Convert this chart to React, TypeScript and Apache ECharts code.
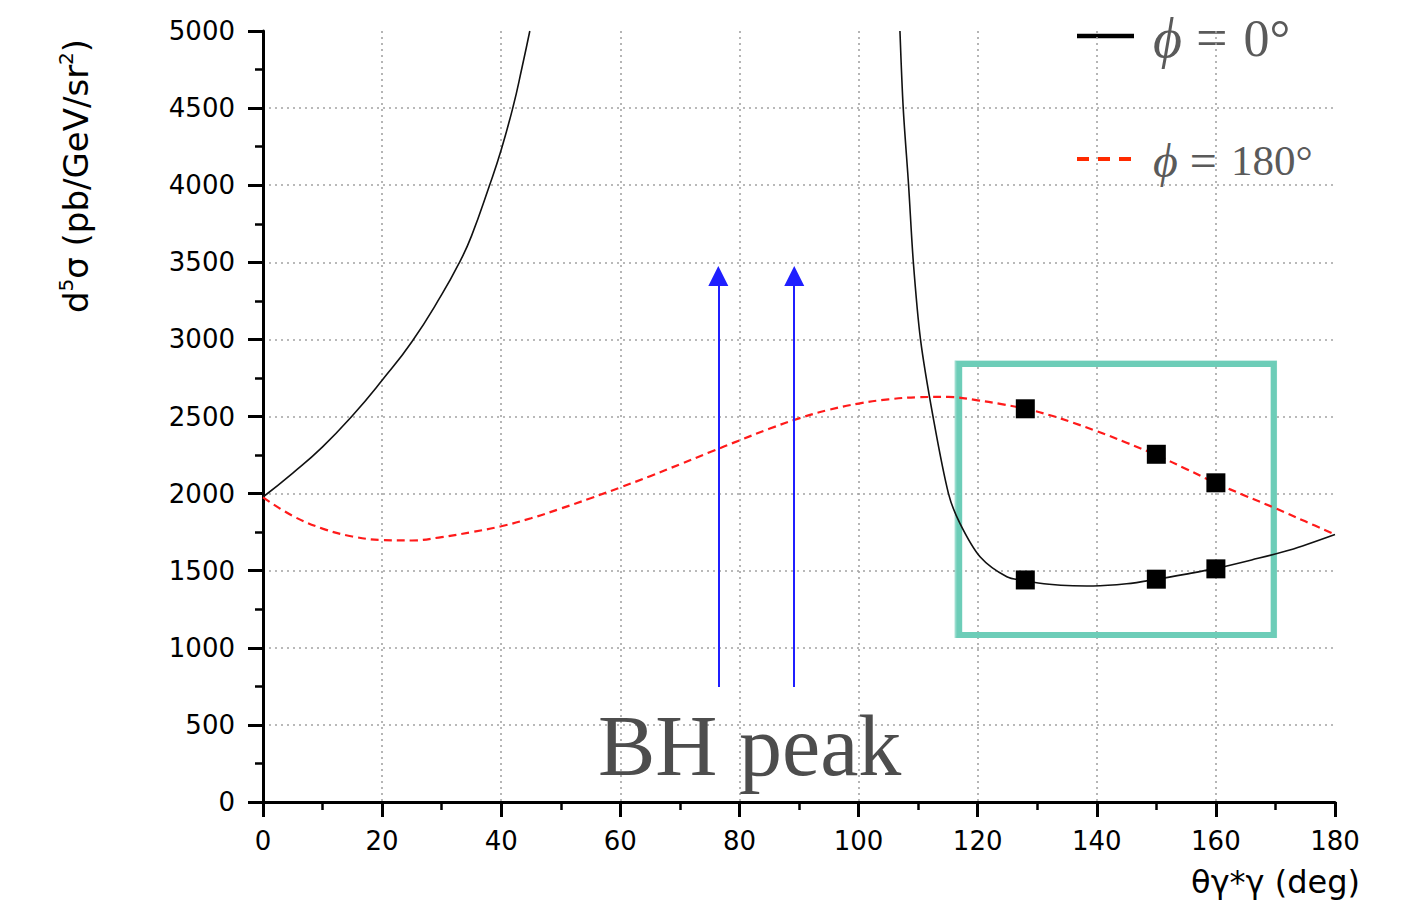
import React, { useEffect, useRef } from "react";
import * as echarts from "echarts";

const blackLeftX = [0, 5, 10, 15, 20, 25, 30, 33, 35, 38, 40, 42, 43.5, 44.8];
const blackLeftY = [1978, 2133, 2303, 2505, 2735, 2985, 3290, 3500, 3670, 3995, 4230, 4510, 4765, 5000];

const blackRightX = [106.95, 107.5, 108.4, 109.2, 110.4, 112.5, 115.1, 117, 120.4, 124.9, 128, 132, 136, 139.4, 145, 150, 155, 160, 166, 172.4, 180];
const blackRightY = [5000, 4500, 4000, 3500, 3000, 2500, 2000, 1809, 1591, 1461, 1435, 1412, 1402, 1401, 1415, 1444, 1478, 1515, 1570, 1634, 1735];

const redX = [0, 5, 10, 15, 20, 25, 30, 35, 40, 45, 50, 55, 60, 65, 70, 75, 80, 85, 90, 95, 100, 105, 110, 115, 120, 124, 128, 132, 136, 140, 145, 150, 155, 160, 165, 170, 175, 180];
const redY = [1975, 1855, 1773, 1722, 1699, 1696, 1718, 1750, 1788, 1840, 1903, 1970, 2040, 2113, 2190, 2268, 2345, 2420, 2488, 2543, 2584, 2611, 2625, 2627, 2605, 2580, 2550, 2510, 2460, 2405, 2330, 2250, 2160, 2068, 1985, 1905, 1820, 1735];

const markerX = [128, 150, 160];
const markerUpperY = [2550, 2255, 2070];
const markerLowerY = [1440, 1445, 1512];

const arrowX = [76.45, 89.2];
const arrowFromY = 746;
const arrowToY = 3411;

const boxX = [116.9, 169.7];
const boxY = [1083, 2840];
const boxSketchX = [116.3, 170.1];
const boxSketchY = [1070, 2856];

const xTicks = { min: 0, max: 180, interval: 20 };
const yTicks = { min: 0, max: 5000, interval: 500 };

const zip = (xs: number[], ys: number[]) => xs.map((x, i) => [x, ys[i]]);

export default function App() {
  const ref = useRef<HTMLDivElement>(null);
  useEffect(() => {
    const chart = echarts.init(ref.current!, null, { renderer: "svg" });
    const labelFont = "DejaVu Sans";
    const axisCommon = {
      axisLine: { show: true, onZero: false, lineStyle: { color: "#000", width: 3 } },
      axisTick: { show: true, inside: false, length: 15, lineStyle: { color: "#000", width: 3 } },
      minorTick: { show: true, splitNumber: 2, length: 8, lineStyle: { color: "#000", width: 2.5 } },
      splitLine: {
        show: true,
        showMinLine: false,
        showMaxLine: false,
        lineStyle: { color: "#a3a3a3", type: [2, 4], width: 1.6 },
      },
      axisLabel: { color: "#000", fontSize: 26, fontFamily: labelFont, formatter: (v: number) => String(v) },
    };
    const serif = "Liberation Serif, DejaVu Serif";
    const legendRich1 = {
      i: { fontSize: 56, fontFamily: serif, fontStyle: "italic", fill: "#5a5a5a" },
      e: { fontSize: 56, fontFamily: "Liberation Serif", fill: "#5a5a5a", padding: [0, 16, 0, 14] },
      n: { fontSize: 52, fontFamily: "Liberation Serif", fill: "#5a5a5a" },
    };
    const legendRich2 = {
      i: { fontSize: 48, fontFamily: serif, fontStyle: "italic", fill: "#5a5a5a" },
      e: { fontSize: 48, fontFamily: "Liberation Serif", fill: "#5a5a5a", padding: [0, 14, 0, 12] },
      n: { fontSize: 43, fontFamily: "Liberation Serif", fill: "#5a5a5a" },
    };
    const option: any = {
      animation: false,
      backgroundColor: "#fff",
      grid: { left: 263, right: 74, top: 31, bottom: 104, containLabel: false },
      xAxis: {
        type: "value",
        ...xTicks,
        ...axisCommon,
        axisLabel: { ...axisCommon.axisLabel, margin: 26 },
      },
      yAxis: {
        type: "value",
        ...yTicks,
        ...axisCommon,
        axisLabel: { ...axisCommon.axisLabel, margin: 28 },
      },
      series: [
        {
          type: "line",
          name: "φ = 0° (low)",
          data: zip(blackLeftX, blackLeftY),
          showSymbol: false,
          smooth: 0.5,
          lineStyle: { color: "#111", width: 1.6 },
          z: 3,
        },
        {
          type: "line",
          name: "φ = 0°",
          data: zip(blackRightX, blackRightY),
          showSymbol: false,
          smooth: 0.3,
          lineStyle: { color: "#111", width: 1.6 },
          z: 3,
          markArea: {
            silent: true,
            itemStyle: { color: "rgba(0,0,0,0)", borderColor: "#6dcdb8", borderWidth: 2, opacity: 0.7 },
            data: [[{ coord: [boxSketchX[0], boxSketchY[1]] }, { coord: [boxSketchX[1], boxSketchY[0]] }]],
          },
        },
        {
          type: "line",
          name: "φ = 180°",
          data: zip(redX, redY),
          showSymbol: false,
          smooth: 0.4,
          lineStyle: { color: "#ff1a1a", width: 2.2, type: [8, 5] },
          z: 3,
          markArea: {
            silent: true,
            itemStyle: { color: "rgba(0,0,0,0)", borderColor: "#6dcdb8", borderWidth: 6 },
            data: [[{ coord: [boxX[0], boxY[1]] }, { coord: [boxX[1], boxY[0]] }]],
          },
        },
        {
          type: "scatter",
          data: zip(markerX, markerUpperY).concat(zip(markerX, markerLowerY)),
          symbol: "rect",
          symbolSize: 19,
          itemStyle: { color: "#000", opacity: 1 },
          z: 5,
        },
        {
          type: "lines",
          coordinateSystem: "cartesian2d",
          symbol: ["none", "triangle"],
          symbolSize: [12, 20],
          lineStyle: { color: "#1f1fff", width: 2, opacity: 1, curveness: 0 },
          data: arrowX.map((x) => ({ coords: [[x, arrowFromY], [x, arrowToY]] })),
          z: 4,
        },
      ],
      graphic: [
        {
          type: "text",
          x: 76,
          y: 176,
          rotation: Math.PI / 2,
          style: {
            text: "{a|d}{s|5}{a|σ (pb/GeV/sr}{s|2}{a|)}",
            align: "center",
            verticalAlign: "middle",
            fill: "#000",
            rich: {
              a: { fontSize: 34, fontFamily: labelFont, fill: "#000", lineHeight: 40 },
              s: { fontSize: 20, fontFamily: labelFont, fill: "#000", verticalAlign: "top", lineHeight: 40 },
            },
          },
        },
        {
          type: "text",
          x: 1360,
          y: 882,
          style: {
            text: "θγ*γ (deg)",
            align: "right",
            verticalAlign: "middle",
            fontSize: 32,
            fontFamily: labelFont,
            fill: "#000",
          },
        },
        {
          type: "text",
          x: 598,
          y: 746,
          style: {
            text: "BH peak",
            align: "left",
            verticalAlign: "middle",
            fontSize: 86,
            fontFamily: "Liberation Serif",
            fill: "#4d4d4d",
          },
          z: 10,
        },
        {
          type: "line",
          shape: { x1: 1077, y1: 36, x2: 1134, y2: 36 },
          style: { stroke: "#000", lineWidth: 4.5 },
        },
        {
          type: "line",
          shape: { x1: 1077, y1: 159, x2: 1131, y2: 159 },
          style: { stroke: "#ff2a00", lineWidth: 4, lineDash: [12, 9] },
        },
        {
          type: "text",
          x: 1153,
          y: 38,
          style: {
            text: "{i|ϕ}{e|=}{n|0°}",
            align: "left",
            verticalAlign: "middle",
            rich: legendRich1,
          },
        },
        {
          type: "text",
          x: 1153,
          y: 160,
          style: {
            text: "{i|ϕ}{e|=}{n|180°}",
            align: "left",
            verticalAlign: "middle",
            rich: legendRich2,
          },
        },
      ],
    };
    chart.setOption(option);
    return () => chart.dispose();
  }, []);
  return (
    <div
      ref={ref}
      style={{ position: "absolute", left: 0, top: 0, width: 1409, height: 906 }}
    />
  );
}
